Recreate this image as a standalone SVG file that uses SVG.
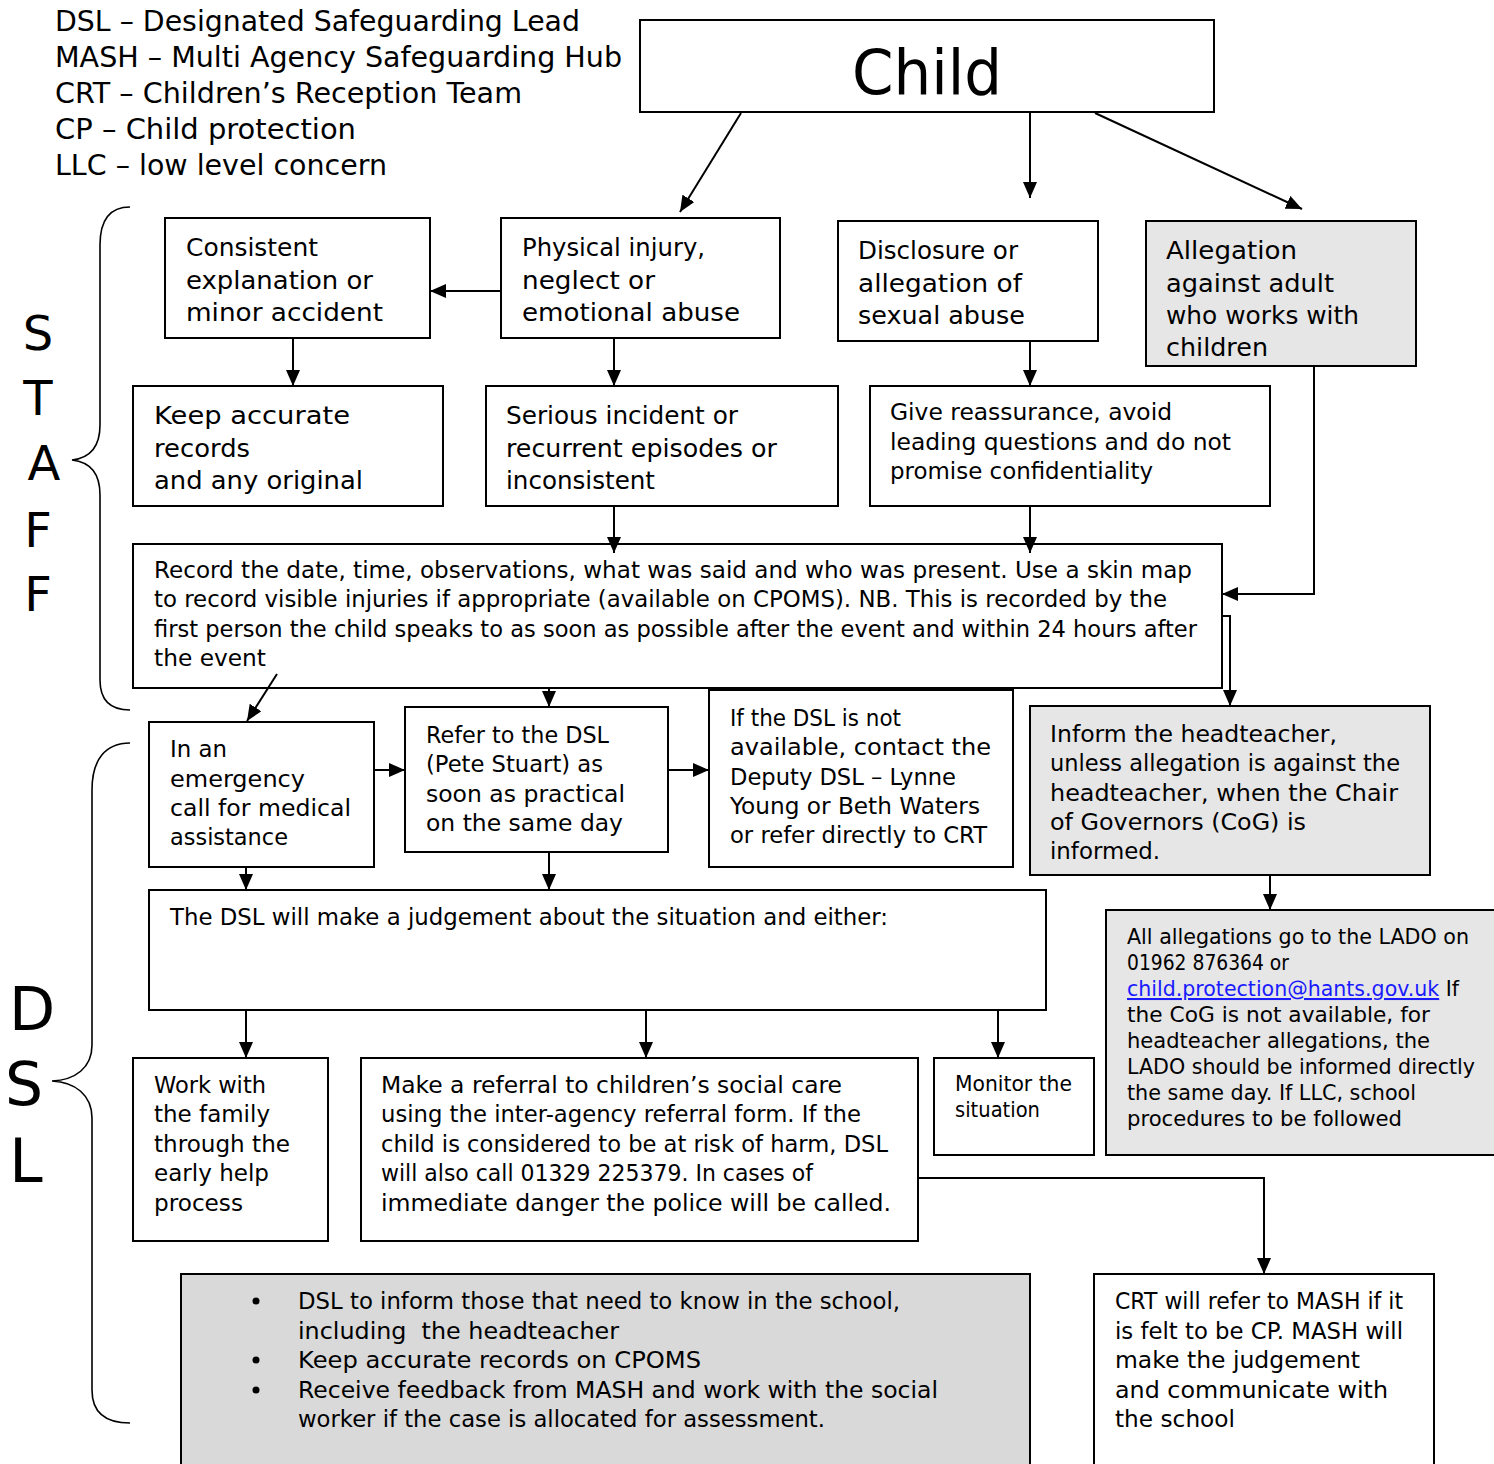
<svg xmlns="http://www.w3.org/2000/svg" width="1494" height="1464" viewBox="0 0 1494 1464">
<style>
text{font-family:"DejaVu Sans","Liberation Sans",sans-serif;fill:#000}
.f28{font-size:28px}.f26{font-size:25px}.f24{font-size:23.5px}.f21{font-size:20.5px}
.box{fill:#fff;stroke:#000;stroke-width:2}
.gray{fill:#e6e6e6;stroke:#000;stroke-width:2}
.gray2{fill:#d9d9d9;stroke:#000;stroke-width:2}
.con{fill:none;stroke:#000;stroke-width:2}
.brace{fill:none;stroke:#000;stroke-width:1.6}
.big{font-size:48px}.big2{font-size:60px}
</style>
<defs>
<marker id="ah" markerWidth="16" markerHeight="14" refX="16" refY="7" orient="auto" markerUnits="userSpaceOnUse"><path d="M0,0 L16,7 L0,14 z" fill="#000"/></marker>
</defs>
<rect width="1494" height="1464" fill="#fff"/>

<g id="legend" class="f28">
<text x="55" y="31" textLength="525" lengthAdjust="spacingAndGlyphs">DSL – Designated Safeguarding Lead</text>
<text x="55" y="67" textLength="567" lengthAdjust="spacingAndGlyphs">MASH – Multi Agency Safeguarding Hub</text>
<text x="55" y="103" textLength="467" lengthAdjust="spacingAndGlyphs">CRT – Children’s Reception Team</text>
<text x="55" y="139" textLength="301" lengthAdjust="spacingAndGlyphs">CP – Child protection</text>
<text x="55" y="175" textLength="332" lengthAdjust="spacingAndGlyphs">LLC – low level concern</text>
</g>

<g id="staff-label">
<path class="brace" d="M130,207 C110,207 100,220 100,245 L100,425 C100,447 90,458 72,460 C90,462 100,473 100,495 L100,680 C100,700 110,710 130,710"/>
<text class="big" x="38" y="350" text-anchor="middle">S</text>
<text class="big" x="38" y="415" text-anchor="middle">T</text>
<text class="big" x="44" y="480" text-anchor="middle">A</text>
<text class="big" x="38" y="547" text-anchor="middle">F</text>
<text class="big" x="38" y="611" text-anchor="middle">F</text>
</g>

<g id="dsl-label">
<path class="brace" d="M130,743 C105,743 92,760 92,790 L92,1045 C92,1068 75,1080 52,1081 C75,1082 92,1095 92,1118 L92,1390 C92,1412 105,1423 130,1423"/>
<text class="big2" x="32" y="1030" text-anchor="middle">D</text>
<text class="big2" x="24" y="1105" text-anchor="middle">S</text>
<text class="big2" x="26" y="1182" text-anchor="middle">L</text>
</g>

<g id="child">
<rect class="box" x="640" y="20" width="574" height="92"/>
<text x="852" y="94" style="font-size:63px" textLength="150" lengthAdjust="spacingAndGlyphs">Child</text>
</g>

<g id="consistent" class="f26">
<rect class="box" x="165" y="218" width="265" height="120"/>
<text x="186" y="256" textLength="132" lengthAdjust="spacingAndGlyphs">Consistent</text>
<text x="186" y="289" textLength="187" lengthAdjust="spacingAndGlyphs">explanation or</text>
<text x="186" y="321" textLength="197" lengthAdjust="spacingAndGlyphs">minor accident</text>
</g>

<g id="physical" class="f26">
<rect class="box" x="501" y="218" width="279" height="120"/>
<text x="522" y="256" textLength="183" lengthAdjust="spacingAndGlyphs">Physical injury,</text>
<text x="522" y="289" textLength="133" lengthAdjust="spacingAndGlyphs">neglect or</text>
<text x="522" y="321" textLength="218" lengthAdjust="spacingAndGlyphs">emotional abuse</text>
</g>

<g id="disclosure" class="f26">
<rect class="box" x="838" y="221" width="260" height="120"/>
<text x="858" y="259" textLength="160" lengthAdjust="spacingAndGlyphs">Disclosure or</text>
<text x="858" y="292" textLength="164" lengthAdjust="spacingAndGlyphs">allegation of</text>
<text x="858" y="324" textLength="167" lengthAdjust="spacingAndGlyphs">sexual abuse</text>
</g>

<g id="allegation" class="f26">
<rect class="gray" x="1146" y="221" width="270" height="145"/>
<text x="1166" y="259" textLength="131" lengthAdjust="spacingAndGlyphs">Allegation</text>
<text x="1166" y="292" textLength="168" lengthAdjust="spacingAndGlyphs">against adult</text>
<text x="1166" y="324" textLength="193" lengthAdjust="spacingAndGlyphs">who works with</text>
<text x="1166" y="356" textLength="102" lengthAdjust="spacingAndGlyphs">children</text>
</g>

<g id="keep" class="f26">
<rect class="box" x="133" y="386" width="310" height="120"/>
<text x="154" y="424" textLength="196" lengthAdjust="spacingAndGlyphs">Keep accurate</text>
<text x="154" y="457" textLength="96" lengthAdjust="spacingAndGlyphs">records</text>
<text x="154" y="489" textLength="209" lengthAdjust="spacingAndGlyphs">and any original</text>
</g>

<g id="serious" class="f26">
<rect class="box" x="486" y="386" width="352" height="120"/>
<text x="506" y="424" textLength="232" lengthAdjust="spacingAndGlyphs">Serious incident or</text>
<text x="506" y="457" textLength="271" lengthAdjust="spacingAndGlyphs">recurrent episodes or</text>
<text x="506" y="489" textLength="149" lengthAdjust="spacingAndGlyphs">inconsistent</text>
</g>

<g id="give" class="f24">
<rect class="box" x="870" y="386" width="400" height="120"/>
<text x="890" y="420" textLength="282" lengthAdjust="spacingAndGlyphs">Give reassurance, avoid</text>
<text x="890" y="450" textLength="341" lengthAdjust="spacingAndGlyphs">leading questions and do not</text>
<text x="890" y="479" textLength="263" lengthAdjust="spacingAndGlyphs">promise confidentiality</text>
</g>

<g id="record" class="f24">
<rect class="box" x="133" y="544" width="1089" height="144"/>
<text x="154" y="578" textLength="1038" lengthAdjust="spacingAndGlyphs">Record the date, time, observations, what was said and who was present. Use a skin map</text>
<text x="154" y="607" textLength="1013" lengthAdjust="spacingAndGlyphs">to record visible injuries if appropriate (available on CPOMS). NB. This is recorded by the</text>
<text x="154" y="637" textLength="1043" lengthAdjust="spacingAndGlyphs">first person the child speaks to as soon as possible after the event and within 24 hours after</text>
<text x="154" y="666" textLength="112" lengthAdjust="spacingAndGlyphs">the event</text>
</g>

<g id="emergency" class="f24">
<rect class="box" x="149" y="722" width="225" height="145"/>
<text x="170" y="757" textLength="57" lengthAdjust="spacingAndGlyphs">In an</text>
<text x="170" y="787" textLength="135" lengthAdjust="spacingAndGlyphs">emergency</text>
<text x="170" y="816" textLength="181" lengthAdjust="spacingAndGlyphs">call for medical</text>
<text x="170" y="845" textLength="118" lengthAdjust="spacingAndGlyphs">assistance</text>
</g>

<g id="refer" class="f24">
<rect class="box" x="405" y="707" width="263" height="145"/>
<text x="426" y="743" textLength="183" lengthAdjust="spacingAndGlyphs">Refer to the DSL</text>
<text x="426" y="772" textLength="177" lengthAdjust="spacingAndGlyphs">(Pete Stuart) as</text>
<text x="426" y="802" textLength="199" lengthAdjust="spacingAndGlyphs">soon as practical</text>
<text x="426" y="831" textLength="197" lengthAdjust="spacingAndGlyphs">on the same day</text>
</g>

<g id="deputy" class="f24">
<rect class="box" x="709" y="690" width="304" height="177"/>
<text x="730" y="726" textLength="171" lengthAdjust="spacingAndGlyphs">If the DSL is not</text>
<text x="730" y="755" textLength="261" lengthAdjust="spacingAndGlyphs">available, contact the</text>
<text x="730" y="785" textLength="226" lengthAdjust="spacingAndGlyphs">Deputy DSL – Lynne</text>
<text x="730" y="814" textLength="250" lengthAdjust="spacingAndGlyphs">Young or Beth Waters</text>
<text x="730" y="843" textLength="257" lengthAdjust="spacingAndGlyphs">or refer directly to CRT</text>
</g>

<g id="inform" class="f24">
<rect class="gray" x="1030" y="706" width="400" height="169"/>
<text x="1050" y="742" textLength="287" lengthAdjust="spacingAndGlyphs">Inform the headteacher,</text>
<text x="1050" y="771" textLength="350" lengthAdjust="spacingAndGlyphs">unless allegation is against the</text>
<text x="1050" y="801" textLength="348" lengthAdjust="spacingAndGlyphs">headteacher, when the Chair</text>
<text x="1050" y="830" textLength="256" lengthAdjust="spacingAndGlyphs">of Governors (CoG) is</text>
<text x="1050" y="859" textLength="110" lengthAdjust="spacingAndGlyphs">informed.</text>
</g>

<g id="lado" class="f21">
<rect class="gray" x="1106" y="910" width="400" height="245"/>
<text x="1127" y="944" textLength="342" lengthAdjust="spacingAndGlyphs">All allegations go to the LADO on</text>
<text x="1127" y="970" textLength="162" lengthAdjust="spacingAndGlyphs">01962 876364 or</text>
<text x="1127" y="996" textLength="332" lengthAdjust="spacingAndGlyphs"><tspan fill="#1a1aff" text-decoration="underline">child.protection@hants.gov.uk</tspan> If</text>
<text x="1127" y="1022" textLength="303" lengthAdjust="spacingAndGlyphs">the CoG is not available, for</text>
<text x="1127" y="1048" textLength="303" lengthAdjust="spacingAndGlyphs">headteacher allegations, the</text>
<text x="1127" y="1074" textLength="348" lengthAdjust="spacingAndGlyphs">LADO should be informed directly</text>
<text x="1127" y="1100" textLength="289" lengthAdjust="spacingAndGlyphs">the same day. If LLC, school</text>
<text x="1127" y="1126" textLength="275" lengthAdjust="spacingAndGlyphs">procedures to be followed</text>
</g>

<g id="judgement" class="f24">
<rect class="box" x="149" y="890" width="897" height="120"/>
<text x="170" y="925" textLength="718" lengthAdjust="spacingAndGlyphs">The DSL will make a judgement about the situation and either:</text>
</g>

<g id="work" class="f24">
<rect class="box" x="133" y="1058" width="195" height="183"/>
<text x="154" y="1093" textLength="112" lengthAdjust="spacingAndGlyphs">Work with</text>
<text x="154" y="1122" textLength="116" lengthAdjust="spacingAndGlyphs">the family</text>
<text x="154" y="1152" textLength="136" lengthAdjust="spacingAndGlyphs">through the</text>
<text x="154" y="1181" textLength="115" lengthAdjust="spacingAndGlyphs">early help</text>
<text x="154" y="1211" textLength="89" lengthAdjust="spacingAndGlyphs">process</text>
</g>

<g id="referral" class="f24">
<rect class="box" x="361" y="1058" width="557" height="183"/>
<text x="381" y="1093" textLength="461" lengthAdjust="spacingAndGlyphs">Make a referral to children’s social care</text>
<text x="381" y="1122" textLength="480" lengthAdjust="spacingAndGlyphs">using the inter-agency referral form. If the</text>
<text x="381" y="1152" textLength="507" lengthAdjust="spacingAndGlyphs">child is considered to be at risk of harm, DSL</text>
<text x="381" y="1181" textLength="432" lengthAdjust="spacingAndGlyphs">will also call 01329 225379. In cases of</text>
<text x="381" y="1211" textLength="510" lengthAdjust="spacingAndGlyphs">immediate danger the police will be called.</text>
</g>

<g id="monitor" class="f21">
<rect class="box" x="934" y="1058" width="160" height="97"/>
<text x="955" y="1091" textLength="117" lengthAdjust="spacingAndGlyphs">Monitor the</text>
<text x="955" y="1117" textLength="85" lengthAdjust="spacingAndGlyphs">situation</text>
</g>

<g id="dsl-actions" class="f24">
<rect class="gray2" x="181" y="1274" width="849" height="200"/>
<circle cx="256" cy="1301" r="3.5"/>
<circle cx="256" cy="1360" r="3.5"/>
<circle cx="256" cy="1390" r="3.5"/>
<text x="298" y="1309" textLength="602" lengthAdjust="spacingAndGlyphs">DSL to inform those that need to know in the school,</text>
<text x="298" y="1339" textLength="321" lengthAdjust="spacingAndGlyphs" xml:space="preserve">including  the headteacher</text>
<text x="298" y="1368" textLength="403" lengthAdjust="spacingAndGlyphs">Keep accurate records on CPOMS</text>
<text x="298" y="1398" textLength="640" lengthAdjust="spacingAndGlyphs">Receive feedback from MASH and work with the social</text>
<text x="298" y="1427" textLength="527" lengthAdjust="spacingAndGlyphs">worker if the case is allocated for assessment.</text>
</g>

<g id="crt" class="f24">
<rect class="box" x="1094" y="1274" width="340" height="200"/>
<text x="1115" y="1309" textLength="288" lengthAdjust="spacingAndGlyphs">CRT will refer to MASH if it</text>
<text x="1115" y="1339" textLength="288" lengthAdjust="spacingAndGlyphs">is felt to be CP. MASH will</text>
<text x="1115" y="1368" textLength="245" lengthAdjust="spacingAndGlyphs">make the judgement</text>
<text x="1115" y="1398" textLength="273" lengthAdjust="spacingAndGlyphs">and communicate with</text>
<text x="1115" y="1427" textLength="120" lengthAdjust="spacingAndGlyphs">the school</text>
</g>

<g id="connectors" class="con">
<path d="M741,113 L680,212" marker-end="url(#ah)"/>
<path d="M1030,113 L1030,198" marker-end="url(#ah)"/>
<path d="M1095,113 L1302,209" marker-end="url(#ah)"/>
<path d="M501,291 L430,291" marker-end="url(#ah)"/>
<path d="M293,338 L293,386" marker-end="url(#ah)"/>
<path d="M614,338 L614,386" marker-end="url(#ah)"/>
<path d="M1030,341 L1030,386" marker-end="url(#ah)"/>
<path d="M614,506 L614,553" marker-end="url(#ah)"/>
<path d="M1030,506 L1030,553" marker-end="url(#ah)"/>
<path d="M1314,366 L1314,594 L1222,594" marker-end="url(#ah)"/>
<path d="M1222,616 L1230,616 L1230,706" marker-end="url(#ah)"/>
<path d="M277,674 L247,721" marker-end="url(#ah)"/>
<path d="M549,688 L549,707" marker-end="url(#ah)"/>
<path d="M374,770 L405,770" marker-end="url(#ah)"/>
<path d="M668,770 L709,770" marker-end="url(#ah)"/>
<path d="M1270,875 L1270,910" marker-end="url(#ah)"/>
<path d="M246,867 L246,890" marker-end="url(#ah)"/>
<path d="M549,852 L549,890" marker-end="url(#ah)"/>
<path d="M246,1010 L246,1058" marker-end="url(#ah)"/>
<path d="M646,1010 L646,1058" marker-end="url(#ah)"/>
<path d="M998,1010 L998,1058" marker-end="url(#ah)"/>
<path d="M918,1178 L1264,1178 L1264,1274" marker-end="url(#ah)"/>
</g>
</svg>
